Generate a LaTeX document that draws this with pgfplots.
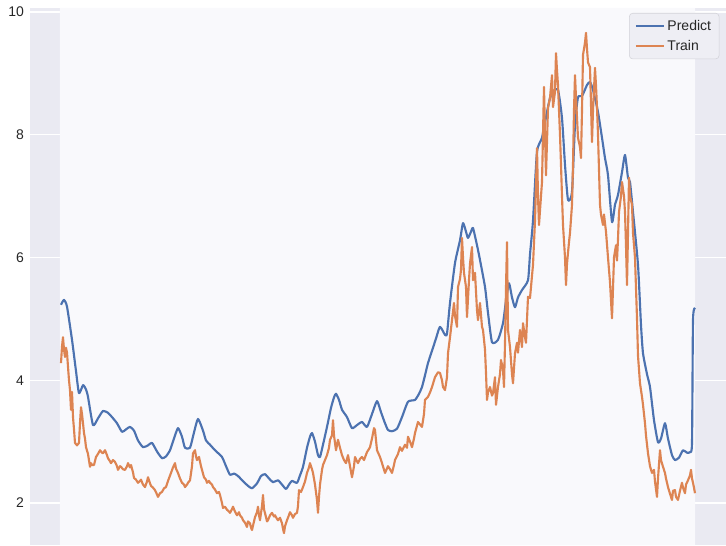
\documentclass[border=0pt]{standalone}
\usepackage{fontspec}
\setmainfont{Liberation Sans}
\usepackage{pgfplots}
\pgfplotsset{compat=1.18}

\definecolor{sbgray}{RGB}{234,234,242}
\definecolor{sbband}{RGB}{249,249,252}
\definecolor{sbblue}{RGB}{76,114,176}
\definecolor{sborange}{RGB}{221,132,82}
\definecolor{labelgray}{RGB}{38,38,38}
\definecolor{legfill}{RGB}{238,238,244}
\definecolor{legborder}{RGB}{210,210,216}

\begin{document}
\begin{tikzpicture}
\begin{axis}[
    name=ax,
    width=522pt, height=402.75pt,
    scale only axis,
    xmin=30, xmax=726,
    ymin=1.316, ymax=10.065,
    axis background/.style={fill=sbgray},
    axis line style={draw=none},
    xtick=\empty,
    ytick={2,4,6,8,10},
    ymajorgrids=true,
    major grid style={white, line width=0.9pt},
    major tick length=0pt,
    tick label style={font=\fontsize{10.5}{12}\selectfont, text=labelgray},
    yticklabel style={xshift=-1pt},
    /pgf/number format/assume math mode=true,
    legend cell align=left,
    legend image code/.code={\draw[#1] (0pt,0pt) -- (21pt,0pt);},
    legend style={
        at={(1,1)}, anchor=north east, xshift=-5pt, yshift=-3.75pt,
        draw=legborder, fill=legfill, rounded corners=2.5pt,
        font=\fontsize{10.5}{12}\selectfont, text=labelgray,
        row sep=2pt, inner xsep=4pt, inner ysep=3pt,
    },
]

% light band where the dense vertical grid sits
\addplot[draw=none, fill=sbband, forget plot]
    coordinates {(60,1.316)(60,10.065)(695,10.065)(695,1.316)} \closedcycle;

\addplot[color=sbblue, line width=1.6pt, line join=round, smooth, tension=0.35]
    coordinates {
    (61,5.23)(64,5.31)(67,5.20)(72,4.66)(76,4.15)(79,3.79)(83,3.92)(86,3.85)(88,3.73)(93,3.27)
    (98,3.38)(103,3.50)(108,3.47)(112,3.40)(117,3.30)(122,3.16)(126,3.20)(130,3.24)(134,3.18)(138,3.02)
    (143,2.91)(148,2.94)(152,2.98)(157,2.84)(162,2.73)(166,2.76)(170,2.86)(174,3.05)(178,3.22)(182,3.08)
    (185,2.90)(190,2.90)(194,3.15)(198,3.37)(203,3.18)(206,3.02)(210,2.95)(215,2.86)(222,2.75)(226,2.60)
    (230,2.46)(234,2.48)(238,2.44)(244,2.34)(248,2.28)(252,2.24)(257,2.32)(261,2.44)(265,2.47)(269,2.40)
    (273,2.34)(278,2.37)(282,2.30)(286,2.23)(289,2.30)(292,2.36)(297,2.33)(300,2.45)(303,2.59)(307,2.90)
    (310,3.08)(312,3.14)(315,3.00)(318,2.78)(320,2.75)(323,2.95)(327,3.24)(331,3.55)(334,3.72)(336,3.78)
    (339,3.68)(342,3.52)(347,3.40)(352,3.22)(357,3.27)(362,3.32)(367,3.24)(372,3.45)(377,3.66)(381,3.48)
    (385,3.30)(388,3.19)(392,3.17)(397,3.21)(402,3.40)(408,3.65)(415,3.68)(419,3.78)(422,3.89)(425,4.08)
    (428,4.28)(432,4.48)(436,4.68)(440,4.87)(445,4.74)(447,4.76)(450,5.26)(455,5.91)(460,6.28)(463,6.56)
    (466,6.42)(468,6.32)(471,6.42)(473,6.48)(477,6.20)(480,5.96)(485,5.52)(488,5.10)(492,4.62)(498,4.66)
    (503,4.93)(506,5.30)(509,5.58)(512,5.35)(515,5.19)(518,5.35)(522,5.47)(528,5.63)(530,6.05)(533,6.60)
    (537,7.72)(542,7.95)(547,8.37)(550,8.60)(553,8.70)(558,8.73)(562,8.27)(565,7.51)(568,6.94)(572,7.07)
    (575,8.16)(578,8.61)(582,8.63)(587,8.81)(590,8.86)(593,8.73)(598,8.37)(602,7.95)(605,7.62)(608,7.34)
    (612,6.58)(615,6.86)(618,7.02)(622,7.39)(625,7.67)(628,7.30)(630,7.23)(633,6.74)(638,5.88)(641,4.90)
    (643,4.44)(647,4.10)(650,3.89)(654,3.35)(658,2.99)(661,3.05)(665,3.30)(668,3.05)(672,2.78)(675,2.70)
    (679,2.74)(683,2.86)(687,2.82)(690,2.83)(692,2.98)(693,4.98)(695,5.18)
    };
\addlegendentry{Predict}

\addplot[color=sborange, line width=1.6pt, line join=round]
    coordinates {
    (61,4.28)(62,4.55)(63,4.70)(64,4.50)(65,4.38)(66,4.53)(67,4.45)(68,4.22)(69,4.00)(70,3.84)
    (71,3.52)(72,3.81)(73,3.40)(74,3.20)(75,2.98)(77,2.94)(79,2.98)(80,3.30)(81,3.56)(82,3.45)
    (83,3.30)(84,3.14)(85,3.05)(86,2.91)(88,2.80)(90,2.59)(91,2.65)(92,2.62)(94,2.62)(96,2.75)
    (98,2.80)(100,2.86)(102,2.82)(103,2.81)(105,2.86)(107,2.78)(108,2.73)(110,2.68)(111,2.65)(113,2.70)
    (115,2.67)(117,2.60)(118,2.54)(120,2.60)(121,2.59)(123,2.55)(125,2.54)(127,2.60)(128,2.65)(130,2.58)
    (131,2.62)(133,2.50)(134,2.41)(136,2.38)(138,2.33)(140,2.36)(141,2.38)(143,2.30)(145,2.26)(147,2.35)
    (148,2.42)(150,2.32)(151,2.28)(153,2.25)(155,2.21)(157,2.14)(158,2.10)(160,2.16)(162,2.18)(164,2.24)
    (166,2.26)(168,2.36)(171,2.49)(173,2.58)(175,2.65)(176,2.56)(178,2.49)(180,2.40)(182,2.33)(184,2.30)
    (185,2.26)(187,2.30)(188,2.33)(190,2.37)(192,2.60)(193,2.81)(195,2.86)(196,2.76)(197,2.70)(199,2.75)
    (201,2.60)(202,2.54)(204,2.42)(206,2.38)(207,2.33)(209,2.36)(210,2.33)(212,2.30)(213,2.26)(215,2.22)
    (217,2.16)(219,2.18)(220,2.13)(222,2.00)(223,1.92)(225,1.94)(227,1.89)(229,1.86)(230,1.84)(232,1.90)
    (233,1.94)(235,1.86)(237,1.80)(239,1.85)(240,1.80)(242,1.76)(243,1.72)(245,1.68)(247,1.61)(248,1.70)
    (250,1.67)(251,1.60)(252,1.56)(254,1.70)(255,1.77)(257,1.85)(258,1.94)(259,1.80)(260,1.72)(262,1.95)
    (263,2.13)(264,1.90)(266,1.77)(267,1.70)(268,1.72)(270,1.80)(272,1.84)(274,1.78)(275,1.80)(277,1.74)
    (278,1.72)(280,1.76)(282,1.67)(283,1.58)(284,1.51)(285,1.62)(287,1.72)(288,1.76)(290,1.85)(292,1.80)
    (293,1.76)(295,1.82)(297,1.84)(298,1.95)(299,2.21)(301,2.18)(303,2.26)(305,2.35)(307,2.49)(309,2.58)
    (310,2.65)(312,2.55)(313,2.49)(315,2.30)(317,2.05)(318,1.84)(319,2.10)(320,2.30)(322,2.54)(323,2.62)
    (325,2.70)(327,2.78)(329,2.90)(330,3.03)(332,3.10)(333,3.35)(334,3.10)(336,2.86)(338,3.03)(340,2.90)
    (342,2.78)(344,2.70)(346,2.65)(348,2.78)(350,2.60)(352,2.42)(354,2.60)(355,2.75)(357,2.68)(358,2.65)
    (360,2.72)(362,2.75)(364,2.70)(367,2.83)(369,2.88)(370,2.91)(372,3.05)(374,3.22)(375,3.19)(377,2.86)
    (380,2.75)(382,2.65)(385,2.49)(388,2.60)(390,2.55)(392,2.49)(394,2.62)(395,2.70)(398,2.80)(400,2.91)
    (402,2.85)(405,2.95)(407,2.90)(408,3.08)(410,3.00)(412,2.91)(414,3.05)(415,3.14)(418,3.32)(420,3.28)
    (422,3.24)(424,3.45)(425,3.68)(428,3.73)(430,3.80)(432,3.89)(435,4.05)(438,4.13)(440,4.12)(442,4.00)
    (443,3.89)(445,3.84)(447,4.05)(448,4.44)(450,4.70)(452,4.98)(454,5.26)(455,5.05)(457,4.87)(458,5.52)
    (460,5.65)(461,5.80)(462,6.32)(463,6.00)(464,5.75)(466,5.52)(467,5.03)(469,5.63)(470,5.90)(472,6.17)
    (473,5.63)(475,5.75)(477,5.14)(478,4.98)(480,5.26)(482,4.87)(483,4.82)(485,4.50)(486,4.12)(487,3.68)
    (488,3.80)(490,3.89)(492,3.75)(493,3.79)(495,4.05)(496,3.60)(498,3.89)(500,4.10)(501,4.33)(503,4.17)
    (504,3.89)(505,4.60)(506,5.50)(507,6.25)(508,4.82)(510,4.54)(512,4.10)(513,3.95)(515,4.44)(517,4.61)
    (518,4.45)(520,4.82)(522,4.54)(523,4.93)(525,4.70)(526,4.61)(528,5.36)(530,5.34)(531,5.52)(533,5.88)
    (535,6.60)(537,7.78)(538,7.00)(539,6.53)(541,7.00)(542,7.23)(543,8.00)(544,8.78)(545,8.00)(546,7.34)
    (548,8.44)(550,8.60)(552,8.97)(553,8.45)(555,8.70)(556,9.33)(557,9.05)(558,8.81)(560,8.00)(561,7.51)
    (562,7.00)(563,6.53)(565,6.00)(566,5.55)(567,5.90)(569,6.25)(570,6.40)(572,6.86)(573,7.50)(574,8.40)
    (575,8.97)(576,8.60)(578,7.95)(580,7.80)(581,7.62)(582,8.40)(583,9.30)(585,9.50)(586,9.66)(587,9.40)
    (588,9.18)(590,9.10)(591,8.50)(592,7.88)(593,8.40)(595,9.09)(596,8.80)(597,8.44)(598,8.00)(600,6.86)
    (601,6.70)(603,6.53)(604,6.70)(606,6.42)(608,6.00)(610,5.60)(611,5.30)(612,5.01)(613,5.50)(614,6.00)
    (616,6.20)(617,5.95)(618,6.30)(619,6.74)(621,7.00)(622,7.23)(624,7.00)(625,6.74)(626,6.20)(627,5.55)
    (628,6.40)(629,7.30)(630,7.00)(632,6.86)(633,6.40)(635,6.00)(636,5.50)(637,5.01)(638,4.40)(640,3.95)
    (642,3.73)(643,3.60)(645,3.30)(646,3.10)(648,2.81)(650,2.60)(652,2.49)(654,2.54)(655,2.35)(657,2.10)
    (658,2.40)(660,2.86)(661,2.70)(663,2.59)(665,2.49)(666,2.40)(668,2.26)(670,2.15)(672,2.05)(673,2.20)
    (675,2.21)(676,2.10)(678,2.05)(680,2.20)(682,2.33)(683,2.25)(685,2.16)(686,2.30)(688,2.37)(690,2.45)
    (691,2.54)(692,2.40)(693,2.33)(694,2.25)(695,2.16)
    };
\addlegendentry{Train}

\end{axis}
\pgfresetboundingbox
\useasboundingbox ([xshift=-22.5pt]ax.south west) rectangle ([yshift=6pt]ax.north east);
\end{tikzpicture}
\end{document}
